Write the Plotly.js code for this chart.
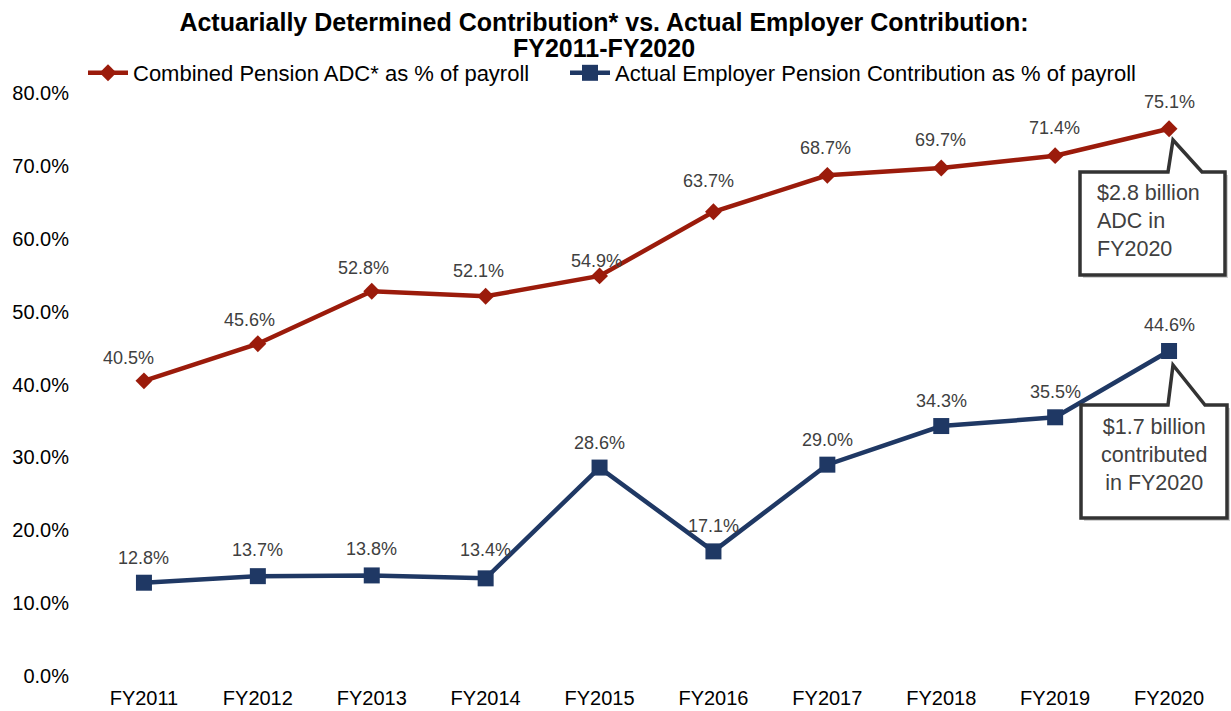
<!DOCTYPE html>
<html>
<head>
<meta charset="utf-8">
<script src="https://cdn.plot.ly/plotly-3.0.1.min.js"></script>
<style>html,body{margin:0;padding:0;background:#fff}#chart{width:1231px;height:711px}</style>
</head>
<body>
<div id="chart"></div>
<script>
// ---- data ----
const years = ["FY2011","FY2012","FY2013","FY2014","FY2015","FY2016","FY2017","FY2018","FY2019","FY2020"];
const adcPct = [40.5, 45.6, 52.8, 52.1, 54.9, 63.7, 68.7, 69.7, 71.4, 75.1];
const actualPct = [12.8, 13.7, 13.8, 13.4, 28.6, 17.1, 29.0, 34.3, 35.5, 44.6];
const yTicks = [0, 10, 20, 30, 40, 50, 60, 70, 80];
const seriesNames = ["Combined Pension ADC* as % of payroll", "Actual Employer Pension Contribution as % of payroll"];
const titleLines = ["Actuarially Determined Contribution* vs. Actual Employer Contribution:", "FY2011-FY2020"];
const calloutADC = ["$2.8 billion", "ADC in", "FY2020"];
const calloutActual = ["$1.7 billion", "contributed", "in FY2020"];

// ---- label placement tweaks (layout only) ----
const adcLabelDx = [-15, -8, -8, -7, -3, -5, -2, -1, -1, 0];
const adcLabelDy = [23, 24, 23, 25, 15, 31, 27, 28, 28, 27];
const actLabelDy = [25, 26, 26, 28, 25, 25, 25, 25, 25, 26];

const RED = "#9B1B0B", BLUE = "#1F3864";
const FONT = "Liberation Sans, Arial, sans-serif";
const M = {l: 87, r: 5, t: 93, b: 35, autoexpand: false};
const W = 1231 - M.l - M.r, H = 711 - M.t - M.b;
const px = x => (x - M.l) / W;
const py = y => (M.t + H - y) / H;
const pathOf = pts => pts.map((p, i) => (i ? "L" : "M") + px(p[0]).toFixed(5) + "," + py(p[1]).toFixed(5)).join(" ") + " Z";

const fmt = v => v.toFixed(1) + "%";

const traces = [
  {x: years, y: adcPct, name: seriesNames[0], type: "scatter", mode: "lines+markers", legend: "legend",
   line: {color: RED, width: 4.5}, marker: {symbol: "diamond", size: 13, color: RED}},
  {x: years, y: actualPct, name: seriesNames[1], type: "scatter", mode: "lines+markers", legend: "legend2",
   line: {color: BLUE, width: 4.5}, marker: {symbol: "square", size: 16, color: BLUE}}
];

const annotations = [];
years.forEach((yr, i) => {
  annotations.push({x: yr, y: adcPct[i], xref: "x", yref: "y", text: fmt(adcPct[i]), showarrow: false,
    xshift: adcLabelDx[i], yshift: adcLabelDy[i], font: {family: FONT, size: 18, color: "#404040"}});
  annotations.push({x: yr, y: actualPct[i], xref: "x", yref: "y", text: fmt(actualPct[i]), showarrow: false,
    yshift: actLabelDy[i], font: {family: FONT, size: 18, color: "#404040"}});
});
annotations.push({x: px(1095), y: py(221), xref: "paper", yref: "paper", xanchor: "left", yanchor: "middle", align: "left",
  text: calloutADC.join("<br>"), showarrow: false, font: {family: FONT, size: 21.5, color: "#404040"}});
annotations.push({x: px(1154), y: py(455), xref: "paper", yref: "paper", xanchor: "center", yanchor: "middle", align: "center",
  text: calloutActual.join("<br>"), showarrow: false, font: {family: FONT, size: 21.5, color: "#404040"}});
// second title line
annotations.push({x: px(604), y: py(48), xref: "paper", yref: "paper", xanchor: "center", yanchor: "middle",
  text: titleLines[1], showarrow: false, font: {family: FONT, size: 25, color: "#000", weight: "bold"}});

const box1 = [[1080,172],[1168,172],[1173,140],[1202,172],[1225,172],[1225,275],[1080,275]];
const box2 = [[1081,405],[1168,405],[1173,365],[1205,405],[1227,405],[1227,518],[1081,518]];
const shift = (pts, d) => pts.map(p => [p[0] + d, p[1] + d]);
const shapes = [
  {type: "path", xref: "paper", yref: "paper", path: pathOf(shift(box1, 3)), fillcolor: "rgba(0,0,0,0.18)", line: {width: 0}, layer: "above"},
  {type: "path", xref: "paper", yref: "paper", path: pathOf(box1), fillcolor: "#ffffff", line: {color: "#333333", width: 3.5}, layer: "above"},
  {type: "path", xref: "paper", yref: "paper", path: pathOf(shift(box2, 3)), fillcolor: "rgba(0,0,0,0.18)", line: {width: 0}, layer: "above"},
  {type: "path", xref: "paper", yref: "paper", path: pathOf(box2), fillcolor: "#ffffff", line: {color: "#333333", width: 3.5}, layer: "above"}
];

const legendCommon = {orientation: "h", xref: "paper", xanchor: "left", y: py(73), yanchor: "middle",
  font: {family: FONT, size: 22, color: "#000"}, bgcolor: "rgba(0,0,0,0)", itemwidth: 40, tracegroupgap: 0};

const layout = {
  width: 1231, height: 711,
  margin: M,
  paper_bgcolor: "#fff", plot_bgcolor: "#fff",
  font: {family: FONT, color: "#000"},
  title: {text: titleLines[0],
    font: {family: FONT, size: 25, color: "#000", weight: "bold"},
    x: 604 / 1231, xanchor: "center", xref: "container", y: 1 - 22 / 711, yanchor: "middle", yref: "container"},
  showlegend: true,
  legend: Object.assign({}, legendCommon, {x: px(83)}),
  legend2: Object.assign({}, legendCommon, {x: px(565)}),
  xaxis: {type: "category", range: [-0.5, 9.5], showgrid: false, zeroline: false, showline: false, ticks: "",
    tickangle: 0, ticklabelstandoff: 8, tickfont: {family: FONT, size: 20, color: "#000"}, fixedrange: true},
  yaxis: {range: [0, 80], tickvals: yTicks, ticktext: yTicks.map(v => v.toFixed(1) + "%"),
    showgrid: false, zeroline: false, showline: false, ticks: "", ticklen: 0, ticklabelstandoff: 17,
    tickfont: {family: FONT, size: 20, color: "#000"}, fixedrange: true},
  annotations: annotations,
  shapes: shapes,
  hovermode: false
};

Plotly.newPlot("chart", traces, layout, {displayModeBar: false, staticPlot: true});
</script>
</body>
</html>
